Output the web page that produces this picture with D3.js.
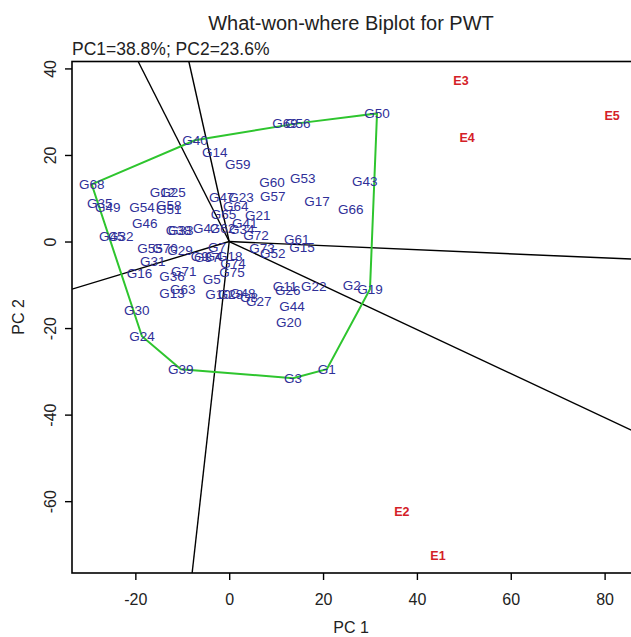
<!DOCTYPE html>
<html>
<head>
<meta charset="utf-8">
<script src="https://cdn.jsdelivr.net/npm/d3@7"></script>
<style>
  body { margin: 0; background: #fff; }
  svg { display: block; font-family: "Liberation Sans", Arial, sans-serif; }
</style>
</head>
<body>
<svg width="631" height="637"></svg>
<script>
// genotype scores (PC1, PC2)
const genotypes = [
  ["G40", -7.3, 23.4], ["G14", -3.1, 20.6], ["G59", 1.8, 17.9], ["G69", 11.9, 27.3],
  ["G56", 14.6, 27.3], ["G50", 31.5, 29.6], ["G68", -29.3, 13.2], ["G12", -14.2, 11.4],
  ["G25", -12.0, 11.4], ["G35", -27.6, 8.8], ["G49", -25.9, 7.9], ["G54", -18.6, 7.9],
  ["G58", -12.9, 8.4], ["G51", -12.9, 7.4], ["G47", -1.6, 10.2], ["G23", 2.5, 10.2],
  ["G64", 1.4, 8.1], ["G65", -1.2, 6.3], ["G21", 6.1, 6.1], ["G60", 9.1, 13.7],
  ["G53", 15.7, 14.6], ["G43", 28.9, 13.9], ["G57", 9.3, 10.4], ["G17", 18.7, 9.3],
  ["G66", 25.9, 7.4], ["G46", -18.0, 4.2], ["G38", -10.8, 2.6], ["G33", -10.3, 2.6],
  ["G45", -25.0, 1.2], ["G32", -23.1, 1.2], ["G42", -5.0, 3.0], ["G62", -1.4, 3.0],
  ["G34", 2.7, 2.8], ["G41", 3.3, 4.2], ["G72", 5.7, 1.4], ["G61", 14.4, 0.5],
  ["G15", 15.5, -1.3], ["G73", 7.0, -1.6], ["G52", 9.3, -2.7], ["G55", -16.9, -1.6],
  ["G70", -13.7, -1.6], ["G29", -10.5, -2.0], ["G31", -16.3, -4.6], ["G16", -19.1, -7.3],
  ["G36", -12.2, -8.0], ["G71", -9.7, -6.9], ["G5", -3.7, -8.7], ["G75", 0.6, -7.1],
  ["G9", -6.3, -3.4], ["G37", -4.8, -3.6], ["G4", -3.3, -3.4], ["G7", -2.6, -1.3],
  ["G18", 0.1, -3.4], ["G74", 0.8, -5.0], ["G10", -2.4, -12.2], ["G28", 0.3, -12.2],
  ["G48", 2.9, -12.0], ["G8", 4.2, -12.9], ["G27", 6.3, -13.8], ["G13", -12.2, -12.0],
  ["G63", -9.9, -11.0], ["G11", 11.9, -10.3], ["G26", 12.5, -11.3], ["G22", 18.0, -10.3],
  ["G2", 26.1, -10.1], ["G19", 30.0, -11.0], ["G44", 13.4, -15.0], ["G20", 12.7, -18.7],
  ["G30", -19.7, -15.9], ["G24", -18.6, -21.9], ["G39", -10.3, -29.5], ["G3", 13.6, -31.6],
  ["G1", 20.8, -29.5]
];

// environment scores
const environments = [
  ["E1", 44.5, -72.5], ["E2", 36.8, -62.3], ["E3", 49.4, 37.2],
  ["E4", 50.7, 24.0], ["E5", 81.6, 29.1]
];

// polygon vertices (convex hull genotypes)
const hullOrder = ["G68", "G40", "G56", "G50", "G19", "G1", "G3", "G39", "G24"];

// sector rays: end points from the origin
const rayEnds = [
  [-19.4, 41.6], [-8.6, 41.6], [-33.5, -11.0], [-7.9, -76.6], [95, -4.5], [95, -48.3]
];

const xTicks = [-20, 0, 20, 40, 60, 80];
const yTicks = [40, 20, 0, -20, -40, -60];

const svg = d3.select("svg");
const pLeft = 72, pTop = 61.5, pBottom = 573, pRight = 675;

const x = d3.scaleLinear().domain([-33.5, 95]).range([pLeft, pRight]);
const y = d3.scaleLinear().domain([-76.6, 41.6]).range([pBottom, pTop]);

svg.append("defs").append("clipPath").attr("id", "plotclip")
  .append("rect")
  .attr("x", pLeft).attr("y", pTop)
  .attr("width", pRight - pLeft).attr("height", pBottom - pTop);

const plot = svg.append("g").attr("clip-path", "url(#plotclip)");

// rays
plot.selectAll(".ray")
  .data(rayEnds)
  .enter().append("line")
  .attr("x1", x(0)).attr("y1", y(0))
  .attr("x2", d => x(d[0])).attr("y2", d => y(d[1]))
  .attr("stroke", "#000")
  .attr("stroke-width", 1.4);

// hull polygon
const byName = new Map(genotypes.map(d => [d[0], d]));
const hullPts = hullOrder.map(n => byName.get(n));
plot.append("path")
  .datum(hullPts)
  .attr("fill", "none")
  .attr("stroke", "#2ec52e")
  .attr("stroke-width", 2)
  .attr("d", d3.line().x(d => x(d[1])).y(d => y(d[2])).curve(d3.curveLinearClosed));

// genotype labels
plot.selectAll(".gen")
  .data(genotypes)
  .enter().append("text")
  .attr("x", d => x(d[1]))
  .attr("y", d => y(d[2]))
  .attr("text-anchor", "middle")
  .attr("dy", "0.36em")
  .attr("font-size", 13.5)
  .attr("fill", "#2f2f98")
  .text(d => d[0]);

// environment labels
plot.selectAll(".env")
  .data(environments)
  .enter().append("text")
  .attr("x", d => x(d[1]))
  .attr("y", d => y(d[2]))
  .attr("text-anchor", "middle")
  .attr("dy", "0.36em")
  .attr("font-size", 12.5)
  .attr("font-weight", "bold")
  .attr("fill", "#d42027")
  .text(d => d[0]);

// frame
svg.append("rect")
  .attr("x", pLeft).attr("y", pTop)
  .attr("width", pRight - pLeft).attr("height", pBottom - pTop)
  .attr("fill", "none")
  .attr("stroke", "#000")
  .attr("stroke-width", 1.6);

// x axis
const xa = svg.append("g").attr("transform", `translate(0,${pBottom})`)
  .call(d3.axisBottom(x).tickValues(xTicks).tickSize(7).tickPadding(14).tickFormat(d => String(d)));
xa.select(".domain").remove();
xa.selectAll("line").attr("stroke-width", 1.4);
xa.selectAll("text").attr("font-size", 16).attr("font-family", "Liberation Sans, Arial, sans-serif").attr("fill", "#222");

// y axis (rotated labels)
const ya = svg.append("g").attr("transform", `translate(${pLeft},0)`)
  .call(d3.axisLeft(y).tickValues(yTicks).tickSize(7).tickFormat(d => String(d)));
ya.select(".domain").remove();
ya.selectAll("line").attr("stroke-width", 1.4);
ya.selectAll("text")
  .attr("x", null).attr("dy", null)
  .attr("text-anchor", "middle")
  .attr("transform", "translate(-16,0) rotate(-90)")
  .attr("font-size", 16).attr("font-family", "Liberation Sans, Arial, sans-serif").attr("fill", "#222");

// titles
svg.append("text")
  .attr("x", 351).attr("y", 30)
  .attr("text-anchor", "middle")
  .attr("font-size", 20).attr("fill", "#222")
  .text("What-won-where Biplot for PWT");

svg.append("text")
  .attr("x", pLeft).attr("y", 55)
  .attr("font-size", 17.5).attr("fill", "#222")
  .text("PC1=38.8%; PC2=23.6%");

svg.append("text")
  .attr("x", 351).attr("y", 633)
  .attr("text-anchor", "middle")
  .attr("font-size", 16).attr("fill", "#222")
  .text("PC 1");

svg.append("text")
  .attr("transform", "translate(24,317) rotate(-90)")
  .attr("text-anchor", "middle")
  .attr("font-size", 16).attr("fill", "#222")
  .text("PC 2");
</script>
</body>
</html>
